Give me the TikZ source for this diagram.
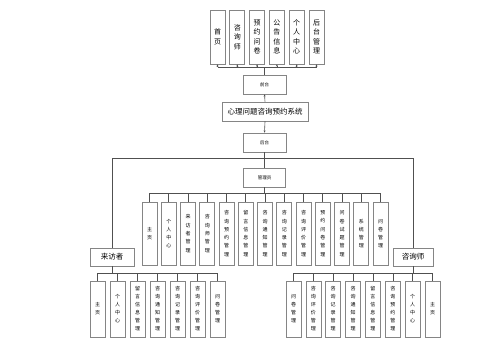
\documentclass[tikz,border=0pt]{standalone}
\usepackage{fontspec}
\setmainfont{Noto Sans CJK SC}
\usetikzlibrary{arrows.meta}
\definecolor{boxgray}{HTML}{858585}
\definecolor{linec}{HTML}{505050}
\tikzset{
  box/.style={draw=boxgray, line width=0.7pt, fill=white, inner sep=0pt, align=center},
  topbox/.style={box, minimum width=15pt, minimum height=54pt, font=\fontsize{7}{9.5}\selectfont},
  midbox/.style={box, minimum width=43pt, minimum height=19pt, font=\fontsize{4.5}{5}\selectfont},
  rolebox/.style={box, minimum height=18pt, font=\fontsize{7.5}{8}\selectfont},
  mgrbox/.style={box, minimum width=15pt, minimum height=63pt, font=\fontsize{5}{8.3}\selectfont},
  subbox/.style={box, minimum width=15pt, minimum height=56pt, font=\fontsize{5}{8}\selectfont},
  conn/.style={draw=linec, line width=0.6pt},
  upar/.style={conn, -{Stealth[length=2.2pt,width=2pt]}},
}
\begin{document}
\begin{tikzpicture}[x=1pt,y=-1pt]
\fill[white] (0,0) rectangle (500,342);
\useasboundingbox (0,0) rectangle (500,342);

% top row
\node[topbox] (t1) at (217.5,37) {首\\页};
\node[topbox] (t2) at (237.3,37) {咨\\询\\师};
\node[topbox] (t3) at (257.1,37) {预\\约\\问\\卷};
\node[topbox] (t4) at (276.9,37) {公\\告\\信\\息};
\node[topbox] (t5) at (296.7,37) {个\\人\\中\\心};
\node[topbox] (t6) at (316.5,37) {后\\台\\管\\理};

\node[midbox] (qt) at (264.5,84.5) {前台};
\node[box, minimum width=86pt, minimum height=19pt, font=\fontsize{7.5}{8}\selectfont] (sys) at (265,111.5) {心理问题咨询预约系统};
\node[midbox] (ht) at (264.5,142.5) {后台};
\node[midbox, minimum width=42pt] (gly) at (264.5,177.5) {管理员};

\node[rolebox, minimum width=44pt] (lfz) at (112,257) {来访者};
\node[rolebox, minimum width=40pt] (zxs) at (413,257) {咨询师};

% manager row
\foreach \i/\t in {1/{主\\页},2/{个\\人\\中\\心},3/{来\\访\\者\\管\\理},4/{咨\\询\\师\\管\\理},5/{咨\\询\\预\\约\\管\\理},6/{留\\言\\信\\息\\管\\理},7/{咨\\询\\通\\知\\管\\理},8/{咨\\询\\记\\录\\管\\理},9/{咨\\询\\评\\价\\管\\理},10/{预\\约\\问\\卷\\管\\理},11/{问\\卷\\试\\题\\管\\理},12/{系\\统\\管\\理},13/{问\\卷\\管\\理}}{
  \node[mgrbox] (m\i) at ({149.5+19.25*(\i-1)},233.5) {\t};
}
% visitor row
\foreach \i/\t in {1/{主\\页},2/{个\\人\\中\\心},3/{留\\言\\信\\息\\管\\理},4/{咨\\询\\通\\知\\管\\理},5/{咨\\询\\记\\录\\管\\理},6/{咨\\询\\评\\价\\管\\理},7/{问\\卷\\管\\理}}{
  \node[subbox] (v\i) at ({97.5+20*(\i-1)},309) {\t};
}
% counselor row
\foreach \i/\t in {1/{问\\卷\\管\\理},2/{咨\\询\\评\\价\\管\\理},3/{咨\\询\\记\\录\\管\\理},4/{咨\\询\\通\\知\\管\\理},5/{留\\言\\信\\息\\管\\理},6/{咨\\询\\预\\约\\管\\理},7/{个\\人\\中\\心},8/{主\\页}}{
  \node[subbox] (c\i) at ({293.5+19.86*(\i-1)},309) {\t};
}

% coordinates for buses
\coordinate (tb) at (264.5,67);
\coordinate (mb) at (264.5,158);
\coordinate (gb) at (264.5,193);
\coordinate (vb) at (112,273);
\coordinate (cb) at (413,273);

% top connectors
\draw[conn] (qt.north) -- (tb);
\draw[conn] (t1.south |- tb) -- (t6.south |- tb);
\foreach \i in {1,...,6}{ \draw[upar] (t\i.south |- tb) -- (t\i.south); }

\draw[upar] (sys.north) -- (qt.south);
\draw[upar] (sys.south) -- (ht.north);

% main bus
\draw[conn] (ht.south) -- (gly.north);
\draw[conn] (lfz.north) -- (lfz.north |- mb) -- (zxs.north |- mb) -- (zxs.north);

% manager bus
\draw[conn] (gly.south) -- (gb);
\draw[conn] (m1.north |- gb) -- (m13.north |- gb);
\foreach \i in {1,...,13}{ \draw[conn] (m\i.north |- gb) -- (m\i.north); }

% visitor bus
\draw[conn] (lfz.south) -- (vb);
\draw[conn] (v1.north |- vb) -- (v7.north |- vb);
\foreach \i in {1,...,7}{ \draw[conn] (v\i.north |- vb) -- (v\i.north); }

% counselor bus
\draw[conn] (zxs.south) -- (cb);
\draw[conn] (c1.north |- cb) -- (c8.north |- cb);
\foreach \i in {1,...,8}{ \draw[conn] (c\i.north |- cb) -- (c\i.north); }
\end{tikzpicture}
\end{document}
